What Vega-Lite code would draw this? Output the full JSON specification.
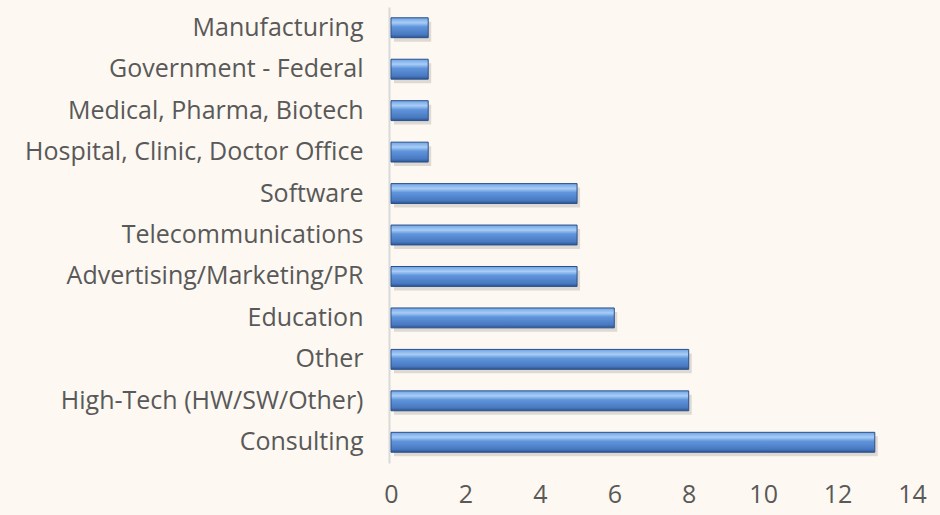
{
  "$schema": "https://vega.github.io/schema/vega-lite/v6.json",
  "width": 521,
  "height": 456,
  "autosize": {"type": "none"},
  "padding": {"left": 391, "top": 7, "right": 28, "bottom": 52},
  "background": "#fdf8f1",
  "config": {
    "view": {"stroke": null},
    "font": "Open Sans"
  },
  "data": {
    "values": [
      {"industry": "Manufacturing", "count": 1},
      {"industry": "Government - Federal", "count": 1},
      {"industry": "Medical, Pharma, Biotech", "count": 1},
      {"industry": "Hospital, Clinic, Doctor Office", "count": 1},
      {"industry": "Software", "count": 5},
      {"industry": "Telecommunications", "count": 5},
      {"industry": "Advertising/Marketing/PR", "count": 5},
      {"industry": "Education", "count": 6},
      {"industry": "Other", "count": 8},
      {"industry": "High-Tech (HW/SW/Other)", "count": 8},
      {"industry": "Consulting", "count": 13}
    ]
  },
  "encoding": {
    "y": {
      "field": "industry", "type": "nominal", "sort": null,
      "scale": {"paddingInner": 0.52, "paddingOuter": 0.26},
      "axis": {
        "title": null,
        "ticks": false,
        "domainColor": "#d9d9d9",
        "domainWidth": 2,
        "labelFontSize": 25,
        "labelColor": "#595959",
        "labelPadding": 26,
        "labelLimit": 400,
        "offset": 2
      }
    },
    "x": {
      "field": "count", "type": "quantitative",
      "scale": {"domain": [0, 14]},
      "axis": {
        "title": null,
        "values": [0, 2, 4, 6, 8, 10, 12, 14],
        "grid": false,
        "domain": false,
        "ticks": false,
        "labelFontSize": 25,
        "labelColor": "#595959",
        "labelPadding": 19,
        "labelFlush": false
      }
    }
  },
  "layer": [
    {
      "mark": {"type": "bar", "color": "#000000", "opacity": 0.12, "xOffset": 3, "yOffset": 4}
    },
    {
      "mark": {
        "type": "bar",
        "stroke": "#2c5089",
        "strokeWidth": 1,
        "color": {
          "gradient": "linear",
          "x1": 0, "y1": 0, "x2": 0, "y2": 1,
          "stops": [
            {"offset": 0, "color": "#6fa3e6"},
            {"offset": 0.25, "color": "#a9cdf5"},
            {"offset": 0.45, "color": "#5f95dc"},
            {"offset": 0.85, "color": "#4878c0"},
            {"offset": 1, "color": "#2b5592"}
          ]
        }
      }
    }
  ]
}
